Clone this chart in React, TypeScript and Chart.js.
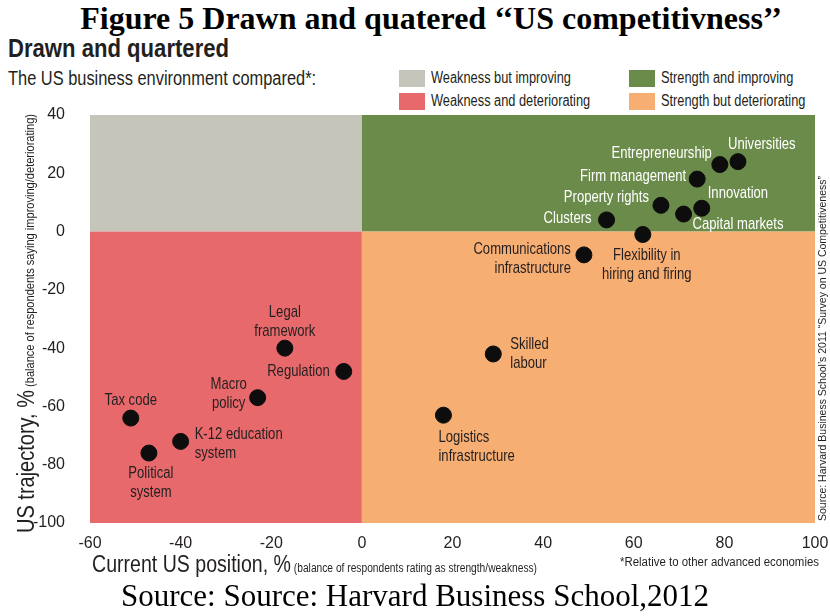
import React, { useEffect, useRef } from "react";
import { Chart, registerables } from "chart.js";

Chart.register(...registerables);

const pointLabels = [
  "Universities",
  "Entrepreneurship",
  "Firm management",
  "Property rights",
  "Innovation",
  "Capital markets",
  "Clusters",
  "Flexibility in\nhiring and firing",
  "Communications\ninfrastructure",
  "Skilled\nlabour",
  "Logistics\ninfrastructure",
  "Legal\nframework",
  "Regulation",
  "Macro\npolicy",
  "Tax code",
  "K-12 education\nsystem",
  "Political\nsystem",
];
const currentPosition = [83, 79, 74, 66, 75, 71, 54, 62, 49, 29, 18, -17, -4, -23, -51, -40, -47];
const trajectory = [24, 23, 18, 9, 8, 6, 4, -1, -8, -42, -63, -40, -48, -57, -64, -72, -76];

const xTicks = [-60, -40, -20, 0, 20, 40, 60, 80, 100];
const yTicks = [40, 20, 0, -20, -40, -60, -80, -100];

const quadrantNames = [
  "Weakness but improving",
  "Strength and improving",
  "Weakness and deteriorating",
  "Strength but deteriorating",
];

// label placement (style only): dx, dy of first line centre from point, alignment
const labelPlacement: [number, number, CanvasTextAlign][] = [
  [-10, -17, "left"],
  [-8, -11, "right"],
  [-11, -3, "right"],
  [-12, -8, "right"],
  [6, -15, "left"],
  [9, 10, "left"],
  [-15, -2, "right"],
  [4, 21, "center"],
  [-13, -6, "right"],
  [17, -10, "left"],
  [-5, 22, "left"],
  [0, -36, "center"],
  [-14, 0, "right"],
  [-29, -13, "center"],
  [0, -18, "center"],
  [14, -7, "left"],
  [2, 20, "center"],
];

const GRAY = "#c6c5bb";
const GREEN = "#6b8b4a";
const RED = "#e8696b";
const ORANGE = "#f7ae72";
const INK = "#231f20";
const quadColors = [GRAY, GREEN, RED, ORANGE];

const SANS = '"Liberation Sans", Arial, sans-serif';
const SERIF = '"Liberation Serif", "Times New Roman", serif';

function drawScaled(
  ctx: CanvasRenderingContext2D,
  text: string,
  x: number,
  y: number,
  align: CanvasTextAlign,
  font: string,
  sx: number
) {
  ctx.save();
  ctx.font = font;
  ctx.textAlign = align;
  ctx.translate(x, y);
  ctx.scale(sx, 1);
  ctx.fillText(text, 0, 0);
  ctx.restore();
}

function fitScale(ctx: CanvasRenderingContext2D, text: string, font: string, target: number) {
  ctx.save();
  ctx.font = font;
  const w = ctx.measureText(text).width;
  ctx.restore();
  return target / w;
}

const quadrantPlugin = {
  id: "quadrants",
  beforeDatasetsDraw(chart: any) {
    const { ctx, scales } = chart;
    const x = scales.x, y = scales.y;
    const x0 = x.getPixelForValue(0), y0 = y.getPixelForValue(0);
    const l = x.getPixelForValue(x.min), r = x.getPixelForValue(x.max);
    const t = y.getPixelForValue(y.max), b = y.getPixelForValue(y.min);
    ctx.save();
    ctx.fillStyle = GRAY; ctx.fillRect(l, t, x0 - l, y0 - t);
    ctx.fillStyle = GREEN; ctx.fillRect(x0, t, r - x0, y0 - t);
    ctx.fillStyle = RED; ctx.fillRect(l, y0, x0 - l, b - y0);
    ctx.fillStyle = ORANGE; ctx.fillRect(x0, y0, r - x0, b - y0);
    ctx.restore();
  },
  afterDatasetsDraw(chart: any) {
    const { ctx, scales } = chart;
    ctx.save();
    ctx.textBaseline = "middle";
    const labFont = `17px ${SANS}`;
    pointLabels.forEach((lab, i) => {
      const px = scales.x.getPixelForValue(currentPosition[i]);
      const py = scales.y.getPixelForValue(trajectory[i]);
      const [dx, dy, align] = labelPlacement[i];
      ctx.fillStyle = currentPosition[i] > 0 && trajectory[i] > 0 ? "#ffffff" : INK;
      lab.split("\n").forEach((line, k) => {
        drawScaled(ctx, line, px + dx, py + dy + k * 19, align, labFont, 0.77);
      });
    });

    const area = chart.chartArea;
    ctx.fillStyle = INK;
    ctx.textBaseline = "alphabetic";

    // x title
    const big = "Current US position, %";
    const small = " (balance of respondents rating as strength/weakness)";
    const bigFont = `23px ${SANS}`;
    const smallFont = `12px ${SANS}`;
    const xt = 92, yt = area.bottom + 49;
    drawScaled(ctx, big, xt, yt, "left", bigFont, fitScale(ctx, big, bigFont, 199));
    drawScaled(ctx, small, xt + 199, yt, "left", smallFont, fitScale(ctx, small, smallFont, 246));

    const note = "*Relative to other advanced economies";
    drawScaled(ctx, note, 819, area.bottom + 43, "right", smallFont, fitScale(ctx, note, smallFont, 199));

    // y title rotated
    ctx.save();
    ctx.translate(34, area.bottom + 10);
    ctx.rotate(-Math.PI / 2);
    const ybig = "US trajectory, %";
    const ysmall = " (balance of respondents saying improving/deteriorating)";
    drawScaled(ctx, ybig, 0, 0, "left", bigFont, fitScale(ctx, ybig, bigFont, 143));
    drawScaled(ctx, ysmall, 143, 0, "left", smallFont, fitScale(ctx, ysmall, smallFont, 276));
    ctx.restore();

    // right source
    ctx.save();
    ctx.translate(826, area.bottom - 2);
    ctx.rotate(-Math.PI / 2);
    const src = "Source: Harvard Business School\u2019s 2011 \u201cSurvey on US Competitiveness\u201d";
    const srcFont = `11px ${SANS}`;
    drawScaled(ctx, src, 0, 0, "left", srcFont, fitScale(ctx, src, srcFont, 345));
    ctx.restore();
    ctx.restore();
  },
};

function Narrow(props: { text: string; size: number; sx: number; bold?: boolean; color?: string }) {
  return (
    <span
      style={{
        display: "inline-block",
        whiteSpace: "nowrap",
        fontFamily: SANS,
        fontSize: props.size,
        fontWeight: props.bold ? "bold" : "normal",
        color: props.color || INK,
        transform: `scaleX(${props.sx})`,
        transformOrigin: "left center",
      }}
    >
      {props.text}
    </span>
  );
}

export default function App() {
  const ref = useRef<HTMLCanvasElement>(null);
  useEffect(() => {
    const canvas = ref.current!;
    const chart = new Chart(canvas, {
      type: "scatter",
      data: {
        labels: pointLabels,
        datasets: [
          {
            data: currentPosition.map((v, i) => ({ x: v, y: trajectory[i] })),
            backgroundColor: "#0d0d0d",
            borderColor: "#0d0d0d",
            pointRadius: 8,
            pointHoverRadius: 8,
          },
        ],
      },
      options: {
        animation: false,
        responsive: false,
        events: [],
        layout: { padding: { top: 15, right: 15, left: 0, bottom: 0 } },
        plugins: { legend: { display: false }, tooltip: { enabled: false } },
        scales: {
          x: {
            type: "linear",
            min: xTicks[0],
            max: xTicks[xTicks.length - 1],
            afterBuildTicks: (s: any) => { s.ticks = xTicks.map((v) => ({ value: v })); },
            afterFit: (s: any) => {
              s.height = 67;
              s.paddingLeft = 0;
              s.paddingRight = 0;
            },
            grid: { display: false },
            border: { display: false },
            ticks: { color: INK, font: { family: SANS, size: 16 }, padding: 3 },
          },
          y: {
            type: "linear",
            min: yTicks[yTicks.length - 1],
            max: yTicks[0],
            afterBuildTicks: (s: any) => { s.ticks = yTicks.map((v) => ({ value: v })); },
            afterFit: (s: any) => {
              s.width = 90;
              s.paddingTop = 0;
              s.paddingBottom = 0;
            },
            grid: { display: false },
            border: { display: false },
            ticks: { color: INK, font: { family: SANS, size: 16 }, padding: 17 },
          },
        },
      },
      plugins: [quadrantPlugin],
    });
    return () => chart.destroy();
  }, []);

  const legendItem = (i: number, left: number, top: number) => (
    <div key={i} style={{ position: "absolute", left, top, height: 17 }}>
      <div style={{ position: "absolute", left: 0, top: 0, width: 26, height: 17, background: quadColors[i] }} />
      <div style={{ position: "absolute", left: 32, top: -2, lineHeight: "20px" }}>
        <Narrow text={quadrantNames[i]} size={16} sx={0.8} />
      </div>
    </div>
  );

  return (
    <div style={{ position: "fixed", left: 0, top: 0, width: 830, height: 616, background: "#fff", overflow: "hidden" }}>
      <div style={{ position: "absolute", left: 0, width: 830, top: 0, textAlign: "center", fontFamily: SERIF, fontWeight: "bold", fontSize: 32, lineHeight: "36px", color: "#000", paddingLeft: 32, boxSizing: "border-box", whiteSpace: "nowrap" }}>
        Figure 5 Drawn and quatered {"\u2018\u2018"}US competitivness{"\u2019\u2019"}
      </div>
      <div style={{ position: "absolute", left: 8, top: 33, lineHeight: "30px" }}>
        <Narrow text="Drawn and quartered" size={26} sx={0.85} bold />
      </div>
      <div style={{ position: "absolute", left: 8, top: 66, lineHeight: "24px" }}>
        <Narrow text="The US business environment compared*:" size={20} sx={0.82} />
      </div>
      {legendItem(0, 399, 70)}
      {legendItem(1, 629, 70)}
      {legendItem(2, 399, 93)}
      {legendItem(3, 629, 93)}
      <canvas ref={ref} width={830} height={490} style={{ position: "absolute", left: 0, top: 100, width: 830, height: 490 }} />
      <div style={{ position: "absolute", left: 0, width: 830, top: 578, textAlign: "center", fontFamily: SERIF, fontSize: 31, lineHeight: "36px", color: "#000", whiteSpace: "nowrap" }}>
        Source: Source: Harvard Business School,2012
      </div>
    </div>
  );
}
